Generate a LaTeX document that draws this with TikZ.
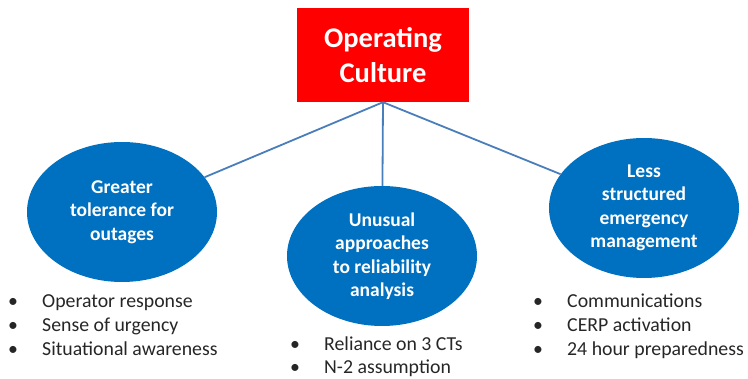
\documentclass[tikz,border=0pt]{standalone}
\usepackage{fontspec}
\setmainfont{Carlito}
\usetikzlibrary{shapes.geometric}
\definecolor{ocred}{HTML}{FF0000}
\definecolor{ocblue}{HTML}{0070C0}
\definecolor{oclink}{HTML}{4A7EBB}
\definecolor{octext}{HTML}{262626}
\tikzset{
  bubble/.style={ellipse,fill=ocblue,minimum width=190pt,minimum height=140pt,inner sep=0pt,
    text=white,align=center,font=\bfseries\fontsize{19.5}{23.5}\selectfont},
  item/.style={anchor=base west,inner sep=0pt,text=octext,font=\fontsize{19.8}{24}\selectfont},
  link/.style={oclink,line width=1.8pt}
}
\newcommand\bul[1]{\makebox[34pt][l]{\textbullet}#1}
\begin{document}
\begin{tikzpicture}[x=1pt,y=-1pt]
  \useasboundingbox (0,0) rectangle (748,379);
  % top box and the three bubbles
  \node[fill=ocred,minimum width=172pt,minimum height=94pt,text=white,align=center,
    font=\bfseries\fontsize{28.5}{35}\selectfont] (culture) at (383,55) {Operating\\Culture};
  \node[bubble] (tolerance) at (122,212) {Greater\\tolerance for\\outages};
  \node[bubble] (approaches) at (382,256) {Unusual\\approaches\\to reliability\\analysis};
  \node[bubble] (emergency) at (644,208) {Less\\structured\\emergency\\management};
  \draw[link] (culture.south)--(tolerance);
  \draw[link] (culture.south)--(approaches);
  \draw[link] (culture.south)--(emergency);
  % bullet lists under the bubbles
  \foreach \t [count=\i] in {Operator response,Sense of urgency,Situational awareness}
    \node[item] (tol\i) at (8,284+24*\i) {\bul{\t}};
  \foreach \t [count=\i] in {Reliance on 3 CTs,N-2 assumption}
    \node[item] (app\i) at (290,327+23.5*\i) {\bul{\t}};
  \foreach \t [count=\i] in {Communications,CERP activation,24 hour preparedness}
    \node[item] (eme\i) at (533,284+24*\i) {\bul{\t}};
\end{tikzpicture}
\end{document}
